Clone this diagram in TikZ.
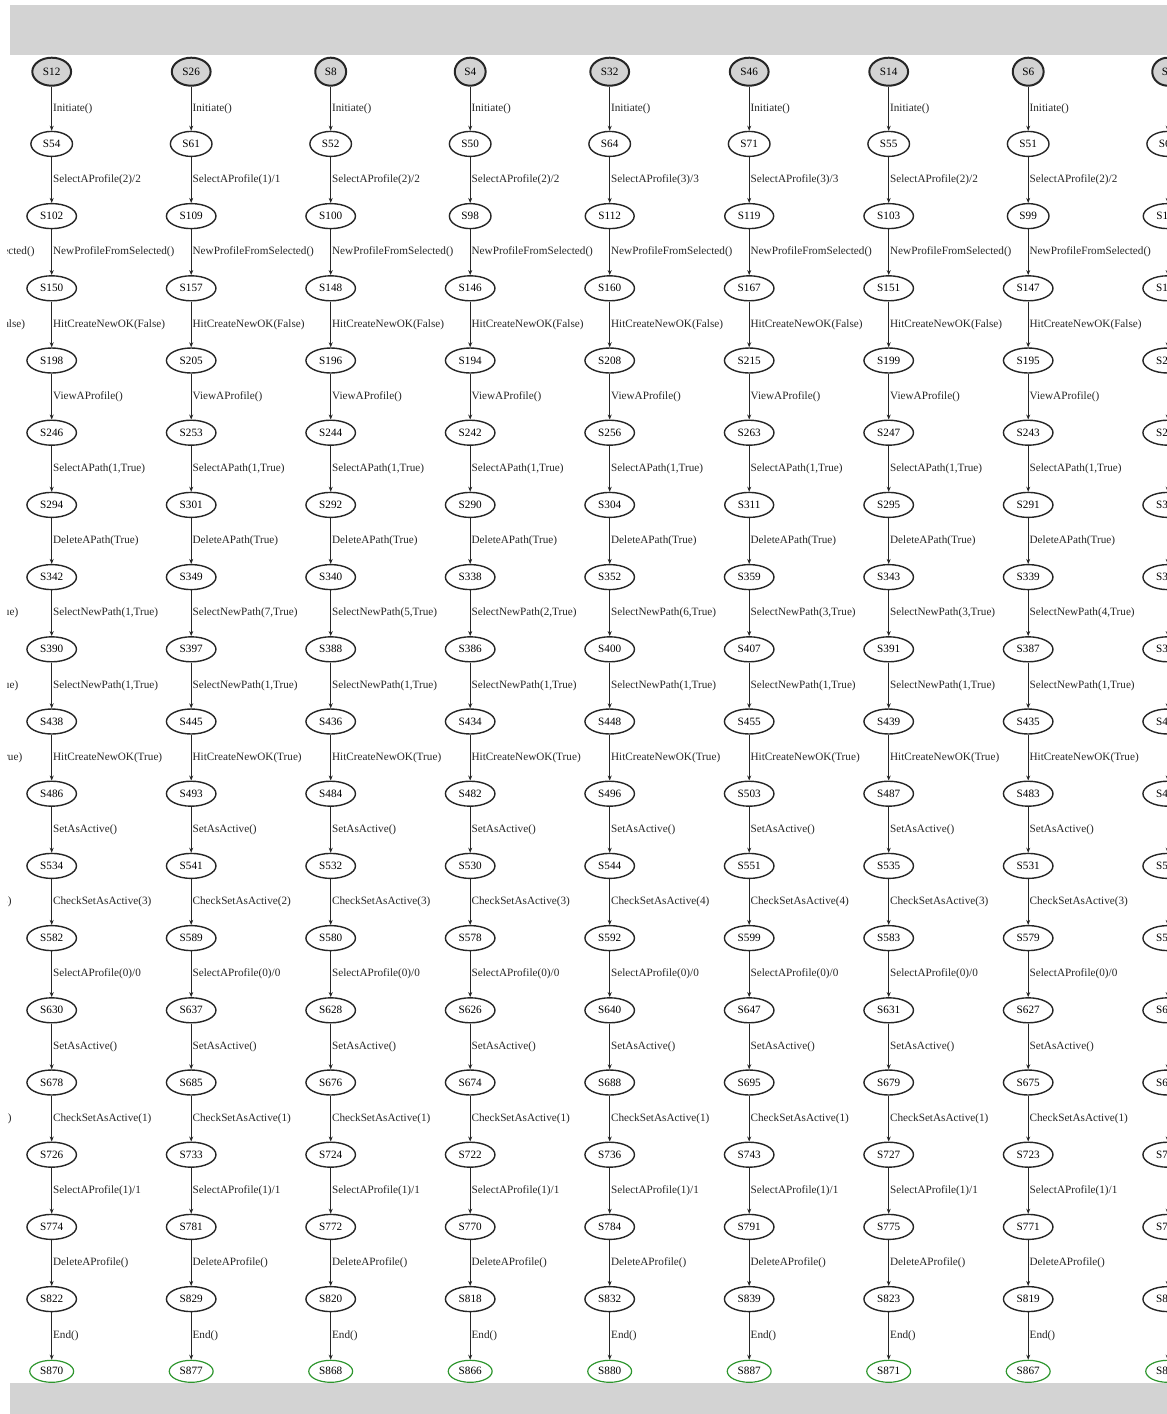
\documentclass[tikz,border=0pt]{standalone}
\usepackage{fontspec}
\setmainfont{Liberation Serif}
\usetikzlibrary{shapes.geometric,arrows.meta}

\definecolor{bandgrey}{RGB}{211,211,211}
\definecolor{endgreen}{RGB}{46,150,46}

\tikzset{
  state/.style={ellipse,draw=black!85,line width=1.4pt,minimum width=40pt,minimum height=25pt,
    inner xsep=6pt,inner ysep=1pt,font=\fontsize{11.2}{13}\selectfont},
  initstate/.style={state,fill=bandgrey,line width=2pt,minimum width=28pt,minimum height=28pt,inner xsep=5pt},
  finalstate/.style={state,draw=endgreen,line width=1.2pt,minimum width=36pt,minimum height=22pt,inner xsep=4pt},
  staterow/.code={\ifnum#1=1 \tikzset{initstate}\else\ifnum#1=19 \tikzset{finalstate}\else\tikzset{state}\fi\fi},
  trans/.style={-{Stealth[length=5pt,width=4pt]},line width=1.3pt,draw=black!85},
  act/.style={anchor=west,inner sep=0.8pt,text=black!85,font=\fontsize{11.2}{13}\selectfont}
}

\begin{document}
\begin{tikzpicture}[x=1pt,y=-1pt]
\useasboundingbox (0,0) rectangle (1167,1414);
\fill[bandgrey] (10,5) rectangle (1167,55);
\fill[bandgrey] (10,1383) rectangle (1167,1414);

\begin{scope}
\clip (7,55) rectangle (1167,1383);

% labels of the chain cut off on the left
\foreach \lbl [count=\r] in {Initiate(), SelectAProfile(2)/2, NewProfileFromSelected(), HitCreateNewOK(False),
    ViewAProfile(), {SelectAPath(1,True)}, DeleteAPath(True), {SelectNewPath(1,True)}, {SelectNewPath(1,True)},
    HitCreateNewOK(True), SetAsActive(), CheckSetAsActive(3), SelectAProfile(0)/0, SetAsActive(),
    CheckSetAsActive(1), SelectAProfile(1)/1, DeleteAProfile(), End()}
  \node[act] (c0-lbl\r) at (-87.8,{71.7+(\r-0.5)*72.2}) {\lbl};

% one chain per test case: column / profile / new path / active check / states
\foreach \c/\ka/\kb/\kc/\names in {
    1/2/1/3/{S12,S54,S102,S150,S198,S246,S294,S342,S390,S438,S486,S534,S582,S630,S678,S726,S774,S822,S870},
    2/1/7/2/{S26,S61,S109,S157,S205,S253,S301,S349,S397,S445,S493,S541,S589,S637,S685,S733,S781,S829,S877},
    3/2/5/3/{S8,S52,S100,S148,S196,S244,S292,S340,S388,S436,S484,S532,S580,S628,S676,S724,S772,S820,S868},
    4/2/2/3/{S4,S50,S98,S146,S194,S242,S290,S338,S386,S434,S482,S530,S578,S626,S674,S722,S770,S818,S866},
    5/3/6/4/{S32,S64,S112,S160,S208,S256,S304,S352,S400,S448,S496,S544,S592,S640,S688,S736,S784,S832,S880},
    6/3/3/4/{S46,S71,S119,S167,S215,S263,S311,S359,S407,S455,S503,S551,S599,S647,S695,S743,S791,S839,S887},
    7/2/3/3/{S14,S55,S103,S151,S199,S247,S295,S343,S391,S439,S487,S535,S583,S631,S679,S727,S775,S823,S871},
    8/2/4/3/{S6,S51,S99,S147,S195,S243,S291,S339,S387,S435,S483,S531,S579,S627,S675,S723,S771,S819,S867},
    9/2/1/3/{S2,S62,S110,S158,S206,S254,S302,S350,S398,S446,S494,S542,S590,S638,S686,S734,S782,S830,S878}} {
  \foreach \n [count=\r] in \names
    \node[staterow=\r] (c\c-\r) at ({51.7+(\c-1)*139.5},{71.7+(\r-1)*72.2}) {\n};
  \foreach \lbl [count=\r] in {Initiate(), SelectAProfile(\ka)/\ka, NewProfileFromSelected(), HitCreateNewOK(False),
      ViewAProfile(), {SelectAPath(1,True)}, DeleteAPath(True), {SelectNewPath(\kb,True)}, {SelectNewPath(1,True)},
      HitCreateNewOK(True), SetAsActive(), CheckSetAsActive(\kc), SelectAProfile(0)/0, SetAsActive(),
      CheckSetAsActive(1), SelectAProfile(1)/1, DeleteAProfile(), End()} {
    \pgfmathtruncatemacro\s{\r+1}
    \draw[trans] (c\c-\r) -- (c\c-\s) node[midway,act] {\lbl};
  }
}
\end{scope}
\end{tikzpicture}
\end{document}
